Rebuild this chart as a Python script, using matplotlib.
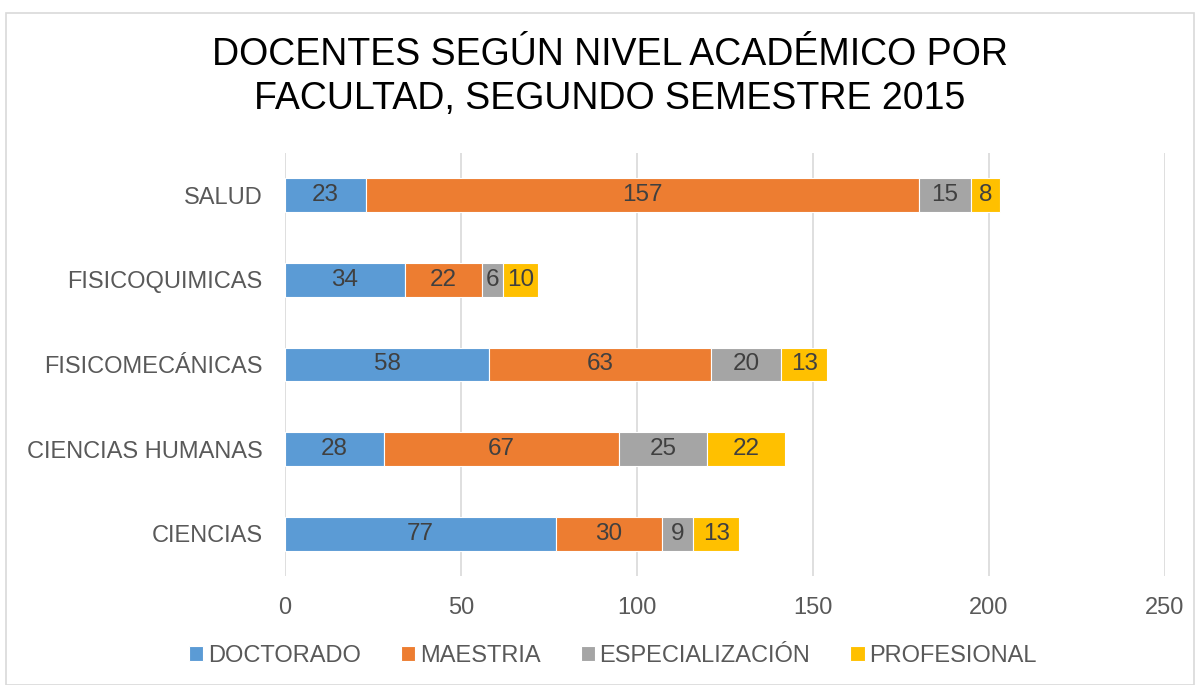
import matplotlib
matplotlib.use("Agg")
import matplotlib.pyplot as plt
import numpy as np

plt.rcParams['font.family'] = ['Liberation Sans', 'DejaVu Sans']

categories = ["CIENCIAS", "CIENCIAS HUMANAS", "FISICOMECÁNICAS", "FISICOQUIMICAS", "SALUD"]
doctorado = [77, 28, 58, 34, 23]
maestria = [30, 67, 63, 22, 157]
especializacion = [9, 25, 20, 6, 15]
profesional = [13, 22, 13, 10, 8]
series_names = ["DOCTORADO", "MAESTRIA", "ESPECIALIZACIÓN", "PROFESIONAL"]
colors = ["#5B9BD5", "#ED7D31", "#A5A5A5", "#FFC000"]
title = "DOCENTES SEGÚN NIVEL ACADÉMICO POR\nFACULTAD, SEGUNDO SEMESTRE 2015"

W, H = 1199, 685
fig = plt.figure(figsize=(W/100, H/100), dpi=100)
ax = fig.add_axes([285/W, 1-576/H, (1165-285)/W, (576-153)/H])

# figure frame
fig.patches.append(plt.Rectangle((6/W, 0), (1194-6)/W, 1-13/H, transform=fig.transFigure,
                                 fill=False, edgecolor="#D9D9D9", linewidth=1.2))

y = np.arange(len(categories))
left = np.zeros(len(categories))
data = [doctorado, maestria, especializacion, profesional]
for vals, name, c in zip(data, series_names, colors):
    vals = np.array(vals)
    bars = ax.barh(y, vals, left=left, height=0.4, color=c, label=name,
                   edgecolor="white", linewidth=0.8, zorder=3)
    for b, v, l in zip(bars, vals, left):
        ax.text(l + v/2, b.get_y() + b.get_height()/2, str(v), ha="center", va="center",
                fontsize=17.5, color="#404040", zorder=4)
    left = left + vals

ax.set_xlim(0, 250)
ax.set_ylim(-0.5, 4.5)
ax.set_xticks(np.arange(0, 251, 50))
ax.set_yticks(y)
ax.set_yticklabels(categories)
ax.grid(axis="x", color="#D9D9D9", linewidth=1.2, zorder=0)
for s in ax.spines.values():
    s.set_visible(False)
ax.tick_params(axis="both", length=0, labelsize=17, labelcolor="#595959")
ax.tick_params(axis="x", pad=15)
ax.tick_params(axis="y", pad=16)

fig.text(610/W, 1-77/H, title, ha="center", va="center", fontsize=27, color="black",
         linespacing=1.28)

leg = fig.legend(loc="center", bbox_to_anchor=(613/W, 1-656/H), ncol=4, frameon=False,
                 fontsize=17, handlelength=0.6, handleheight=0.6, handletextpad=0.2,
                 columnspacing=1.7, labelcolor="#595959")

fig.savefig("out.png", dpi=100)
